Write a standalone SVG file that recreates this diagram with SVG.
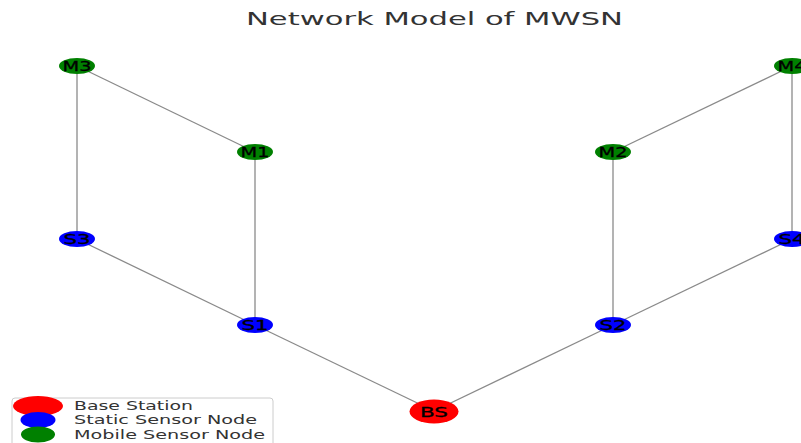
<svg xmlns="http://www.w3.org/2000/svg" width="801" height="443" viewBox="0 0 801 443">
  <style>
    .edge { stroke: #8a8a8a; stroke-width: 1.3; fill: none; }
    .lbl { font-family: "DejaVu Sans", sans-serif; font-size: 13.5px; fill: #000; stroke: #000; stroke-width: 0.3; text-anchor: middle; }
    .title { font-family: "DejaVu Sans", sans-serif; font-size: 17px; fill: #333; }
    .leg { font-family: "DejaVu Sans", sans-serif; font-size: 13px; fill: #333; }
    .bs { fill: #ff0000; }
    .static { fill: #0000ff; }
    .mobile { fill: #008000; }
  </style>
  <rect width="801" height="443" fill="#ffffff"/>

  <text class="title" x="246" y="25" textLength="377" lengthAdjust="spacingAndGlyphs">Network Model of MWSN</text>

  <g id="connectors">
    <line class="edge" x1="77" y1="66" x2="255" y2="152"/>
    <line class="edge" x1="77" y1="66" x2="77" y2="239"/>
    <line class="edge" x1="255" y1="152" x2="255" y2="325"/>
    <line class="edge" x1="77" y1="239" x2="255" y2="325"/>
    <line class="edge" x1="255" y1="325" x2="434" y2="411"/>
    <line class="edge" x1="434" y1="411" x2="613" y2="325"/>
    <line class="edge" x1="613" y1="325" x2="613" y2="152"/>
    <line class="edge" x1="613" y1="325" x2="792" y2="239"/>
    <line class="edge" x1="613" y1="152" x2="792" y2="66"/>
    <line class="edge" x1="792" y1="66" x2="792" y2="239"/>
  </g>

  <g id="M3">
    <ellipse class="mobile" cx="77" cy="66" rx="18" ry="8"/>
    <text class="lbl" x="77" y="71" textLength="29" lengthAdjust="spacingAndGlyphs">M3</text>
  </g>
  <g id="M1">
    <ellipse class="mobile" cx="255" cy="152" rx="18" ry="8"/>
    <text class="lbl" x="255" y="157" textLength="29" lengthAdjust="spacingAndGlyphs">M1</text>
  </g>
  <g id="S3">
    <ellipse class="static" cx="77" cy="239" rx="18" ry="8"/>
    <text class="lbl" x="77" y="244" textLength="27" lengthAdjust="spacingAndGlyphs">S3</text>
  </g>
  <g id="S1">
    <ellipse class="static" cx="255" cy="325" rx="18" ry="8"/>
    <text class="lbl" x="255" y="330" textLength="27" lengthAdjust="spacingAndGlyphs">S1</text>
  </g>
  <g id="BS">
    <ellipse class="bs" cx="434" cy="411.5" rx="24.5" ry="12"/>
    <text class="lbl" x="434" y="416.5" textLength="28" lengthAdjust="spacingAndGlyphs">BS</text>
  </g>
  <g id="S2">
    <ellipse class="static" cx="613" cy="325" rx="18" ry="8"/>
    <text class="lbl" x="613" y="330" textLength="27" lengthAdjust="spacingAndGlyphs">S2</text>
  </g>
  <g id="M2">
    <ellipse class="mobile" cx="613" cy="152" rx="18" ry="8"/>
    <text class="lbl" x="613" y="157" textLength="29" lengthAdjust="spacingAndGlyphs">M2</text>
  </g>
  <g id="S4">
    <ellipse class="static" cx="792" cy="239" rx="18" ry="8"/>
    <text class="lbl" x="792" y="244" textLength="27" lengthAdjust="spacingAndGlyphs">S4</text>
  </g>
  <g id="M4">
    <ellipse class="mobile" cx="792" cy="66" rx="18" ry="8"/>
    <text class="lbl" x="792" y="71" textLength="29" lengthAdjust="spacingAndGlyphs">M4</text>
  </g>

  <g id="legend">
    <rect x="12" y="398" width="261" height="50" rx="3" fill="#ffffff" stroke="#cccccc" stroke-width="1"/>
    <ellipse class="bs" cx="38" cy="406" rx="25" ry="10"/>
    <ellipse class="static" cx="38" cy="420" rx="17.5" ry="8"/>
    <ellipse class="mobile" cx="38" cy="434.5" rx="17" ry="8"/>
    <text class="leg" x="74" y="410" textLength="119" lengthAdjust="spacingAndGlyphs">Base Station</text>
    <text class="leg" x="74" y="424" textLength="183" lengthAdjust="spacingAndGlyphs">Static Sensor Node</text>
    <text class="leg" x="74" y="438.5" textLength="191" lengthAdjust="spacingAndGlyphs">Mobile Sensor Node</text>
  </g>
</svg>
